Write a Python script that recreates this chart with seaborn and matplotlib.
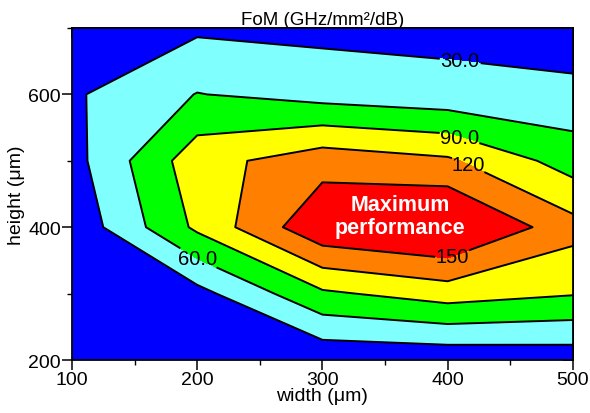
import numpy as np
import matplotlib
matplotlib.use("Agg")
import matplotlib.pyplot as plt
from matplotlib.ticker import MultipleLocator
import seaborn as sns

# grid of the FoM map (GHz/mm^2/dB)
widths = [100, 200, 300, 400, 500]
heights = [200, 300, 400, 500, 600, 700]

fom_h200 = [3, 5, 6, 8, 11.5]
fom_h300 = [5, 20, 85, 104, 92]
fom_h400 = [8, 96, 175, 190, 131]
fom_h500 = [19, 108, 138, 125, 76]
fom_h600 = [26, 61, 48, 40, 40]
fom_h700 = [10, 25, 22, 21, 8]

levels = [0, 30, 60, 90, 120, 150, 300]
line_levels = [30, 60, 90, 120, 150]
label_fmt = {30: "30.0", 60: "60.0", 90: "90.0", 120: "120", 150: "150"}
fill_colors = ["#0000FF", "#80FFFF", "#00FF00", "#FFFF00", "#FF8000", "#FF0000"]

OUT_PATH = "out.png"


def main():
    sns.set_theme(style="ticks")
    plt.rcParams["font.family"] = ["Liberation Sans", "DejaVu Sans"]
    plt.rcParams["axes.edgecolor"] = "black"
    plt.rcParams["axes.linewidth"] = 1.3
    plt.rcParams["text.color"] = "black"
    plt.rcParams["axes.labelcolor"] = "black"
    plt.rcParams["xtick.color"] = "black"
    plt.rcParams["ytick.color"] = "black"

    fom = np.array([fom_h200, fom_h300, fom_h400, fom_h500, fom_h600, fom_h700])
    W, H = np.meshgrid(widths, heights)

    fig = plt.figure(figsize=(5.9, 4.14), dpi=100)
    ax = fig.add_axes([0.122, 0.128, 0.849, 0.802])

    ax.contourf(W, H, fom, levels=levels, colors=fill_colors)
    cs = ax.contour(W, H, fom, levels=line_levels, colors="black", linewidths=1.4)

    # label spots along each contour
    spots = [(410, 650), (200, 350), (410, 538), (418, 500), (405, 350)]
    labels = ax.clabel(cs, fmt=label_fmt, fontsize=14.5, inline=True,
                       inline_spacing=1, manual=spots)
    for t in labels:
        t.set_rotation(0)
        t.set_color("black")

    ax.text(362, 417, "Maximum\nperformance", color="white", fontsize=15.5,
            fontweight="bold", ha="center", va="center", linespacing=1.1)

    ax.set_xlim(100, 500)
    ax.set_ylim(200, 700)
    ax.set_xticks([100, 200, 300, 400, 500])
    ax.set_yticks([200, 400, 600])
    ax.xaxis.set_minor_locator(MultipleLocator(50))
    ax.yaxis.set_minor_locator(MultipleLocator(100))
    ax.tick_params(which="major", direction="out", length=7, width=1.1,
                   labelsize=14, pad=1)
    ax.tick_params(which="minor", direction="out", length=3.5, width=1.0)

    top = ax.secondary_xaxis("top")
    top.set_xticks([100, 200, 300, 400, 500])
    top.xaxis.set_minor_locator(MultipleLocator(50))
    top.tick_params(which="major", direction="in", length=7, width=1.1, labeltop=False)
    top.tick_params(which="minor", direction="in", length=3.5, width=1.0)

    right = ax.secondary_yaxis("right")
    right.set_yticks([200, 400, 600])
    right.yaxis.set_minor_locator(MultipleLocator(100))
    right.tick_params(which="major", direction="in", length=7, width=1.1, labelright=False)
    right.tick_params(which="minor", direction="in", length=3.5, width=1.0)

    ax.set_xlabel("width (\u03bcm)", fontsize=14, labelpad=-1)
    ax.set_ylabel("height (\u03bcm)", fontsize=14, labelpad=2)
    ax.set_title("FoM (GHz/mm\u00b2/dB)", fontsize=13.5, pad=3)

    fig.savefig(OUT_PATH, dpi=100)


if __name__ == "__main__":
    main()
